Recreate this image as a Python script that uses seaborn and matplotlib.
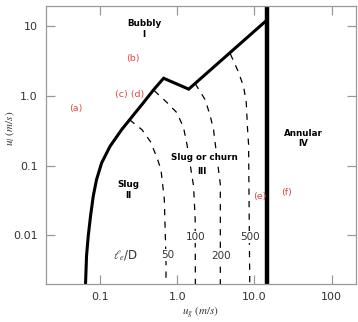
import numpy as np
import matplotlib
matplotlib.use("Agg")
import matplotlib.pyplot as plt
import seaborn as sns
import pandas as pd

# flow regime map, vertical upflow
bound_ug = [0.065, 0.067, 0.0705, 0.0755, 0.0818, 0.0903, 0.105, 0.135, 0.1905,
            0.284, 0.364, 0.494, 0.667, 1.41, 14.5]
bound_ul = [0.002, 0.00506, 0.0098, 0.0189, 0.0364, 0.063, 0.109, 0.189, 0.327,
            0.566, 0.794, 1.22, 1.79, 1.25, 12.2]
annular_ug = 14.5

le50_ug = [0.242, 0.350, 0.449, 0.547, 0.616, 0.681, 0.716, 0.716]
le50_ul = [0.454, 0.327, 0.222, 0.130, 0.088, 0.033, 0.0045, 0.002]
le100_ug = [0.505, 0.745, 0.994, 1.21, 1.34, 1.63, 1.71, 1.72]
le100_ul = [1.19, 0.794, 0.572, 0.349, 0.20, 0.051, 0.017, 0.002]
le200_ug = [1.71, 2.31, 2.69, 2.96, 3.12, 3.62, 3.62]
le200_ul = [1.50, 0.877, 0.506, 0.327, 0.20, 0.054, 0.002]
le500_ug = [4.88, 6.19, 7.25, 7.85, 8.16, 8.41, 8.71]
le500_ul = [4.0, 2.22, 1.36, 0.794, 0.327, 0.20, 0.002]

le_names = ["50", "100", "200", "500"]
le_label_ug = [0.751, 1.71, 3.69, 8.85]
le_label_ul = [0.0052, 0.0095, 0.0051, 0.0095]

regime_text = ["Bubbly", "I", "Slug", "II", "Slug or churn", "III", "Annular", "IV"]
regime_ug = [0.375, 0.375, 0.234, 0.234, 2.25, 2.11, 43.4, 43.4]
regime_ul = [11.0, 7.6, 0.0535, 0.0373, 0.129, 0.082, 0.286, 0.206]

case_text = ["(a)", "(b)", "(c) (d)", "(e)", "(f)"]
case_ug = [0.0493, 0.27, 0.24, 11.7, 26.0]
case_ul = [0.65, 3.49, 1.03, 0.0364, 0.0407]

xticks = [0.1, 1.0, 10.0, 100.0]
xtick_labels = ["0.1", "1.0", "10.0", "100"]
yticks = [0.01, 0.1, 1.0, 10.0]
ytick_labels = ["0.01", "0.1", "1.0", "10"]

sns.set_style("ticks")
plt.rcParams["font.family"] = ["DejaVu Sans"]
plt.rcParams["mathtext.fontset"] = "stix"

fig = plt.figure(figsize=(3.58, 3.22), dpi=100)
ax = fig.add_axes([0.1285, 0.118, 0.865, 0.8635])
ax.set_xscale("log")
ax.set_yscale("log")

df_b = pd.DataFrame({"ug": bound_ug, "ul": bound_ul})
sns.lineplot(data=df_b, x="ug", y="ul", sort=False, estimator=None, color="black",
             linewidth=2.2, ax=ax, solid_joinstyle="miter")
ax.axvline(annular_ug, color="black", linewidth=3.2)

for ug, ul in [(le50_ug, le50_ul), (le100_ug, le100_ul), (le200_ug, le200_ul), (le500_ug, le500_ul)]:
    d = pd.DataFrame({"ug": ug, "ul": ul})
    sns.lineplot(data=d, x="ug", y="ul", sort=False, estimator=None, color="black",
                 linewidth=0.9, linestyle=(0, (5, 5)), ax=ax)

white = dict(facecolor="white", edgecolor="none", pad=0.6)
for t, x, y in zip(le_names, le_label_ug, le_label_ul):
    ax.text(x, y, t, ha="center", va="center", fontsize=7.5, color="#333333",
            bbox=white, zorder=5)
ax.text(0.213, 0.0052, r"$\ell_e$/D", ha="center", va="center", fontsize=8.5,
        color="#333333", zorder=5)

for t, x, y in zip(regime_text, regime_ug, regime_ul):
    bb = white if t in ("Slug or churn", "III") else None
    ax.text(x, y, t, ha="center", va="center", fontsize=6.3, fontweight="bold",
            color="black", bbox=bb, zorder=5)

for t, x, y in zip(case_text, case_ug, case_ul):
    ax.text(x, y, t, ha="center", va="center", fontsize=6.8, color="#e04848", zorder=5)

ax.set_xlim(0.02, 205)
ax.set_ylim(0.002, 19.5)
ax.set_xticks(xticks)
ax.set_xticklabels(xtick_labels)
ax.set_yticks(yticks)
ax.set_yticklabels(ytick_labels)
ax.minorticks_off()
ax.tick_params(which="both", direction="in", length=6.5, width=0.9, color="#999999",
               top=True, right=True, labelsize=8, labelcolor="#333333", pad=6)
for s in ax.spines.values():
    s.set_color("#999999")
    s.set_linewidth(0.9)

ax.set_xlabel(r"$u_g\ (m/s)$", fontsize=8, color="#333333")
ax.set_ylabel(r"$u_l\ (m/s)$", fontsize=8, color="#333333")
ax.yaxis.set_label_coords(-0.095, 0.56)
ax.xaxis.set_label_coords(0.5, -0.075)

fig.savefig("out.png", dpi=100)
